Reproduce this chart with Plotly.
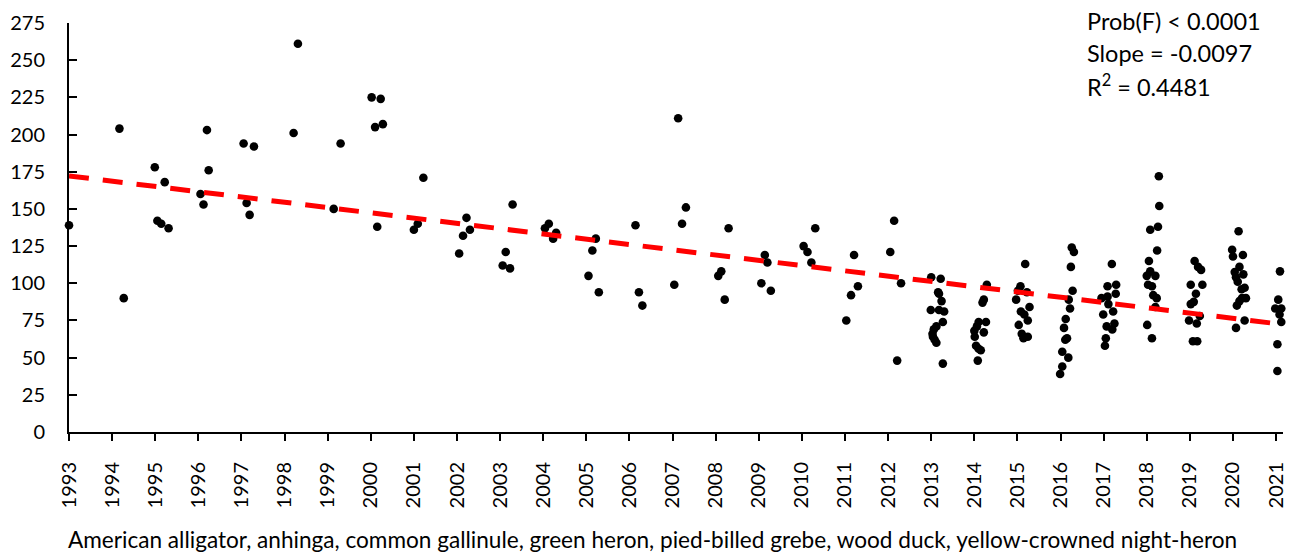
import plotly.graph_objects as go

# ---- data ----
point_years = [
    1993.00,
    1994.17, 1994.27,
    1994.99, 1995.05, 1995.14, 1995.22, 1995.31,
    1996.05, 1996.12, 1996.20, 1996.24,
    1997.05, 1997.12, 1997.19, 1997.29,
    1998.21, 1998.31,
    1999.14, 1999.30,
    2000.02, 2000.10, 2000.15, 2000.23, 2000.28,
    2001.00, 2001.09, 2001.22,
    2002.05, 2002.14, 2002.22, 2002.30,
    2003.06, 2003.13, 2003.23, 2003.29,
    2004.04, 2004.13, 2004.23, 2004.30,
    2005.05, 2005.14, 2005.22, 2005.29,
    2006.14, 2006.22, 2006.30,
    2007.04, 2007.13, 2007.22, 2007.31,
    2008.06, 2008.13, 2008.21, 2008.30,
    2009.06, 2009.14, 2009.20, 2009.28,
    2010.04, 2010.13, 2010.22, 2010.31,
    2011.03, 2011.14, 2011.21, 2011.30,
    2012.05, 2012.14, 2012.21, 2012.30,
    2013.00, 2013.22, 2013.16, 2013.18, 2013.24, 2012.99, 2013.18, 2013.30,
    2013.27, 2013.12, 2013.06, 2013.03, 2013.04, 2013.08, 2013.12, 2013.27,
    2014.29, 2014.22, 2014.19, 2014.27, 2014.10, 2014.06, 2014.22, 2014.00,
    2014.01, 2014.04, 2014.10, 2014.15, 2014.08,
    2015.18, 2015.07, 2015.01, 2015.22, 2014.97, 2015.28, 2015.08, 2015.16,
    2015.24, 2015.03, 2015.10, 2015.14, 2015.24,
    2016.26, 2016.31, 2016.24, 2016.28, 2016.19, 2016.22, 2016.12, 2016.08,
    2016.15, 2016.11, 2016.04, 2016.18, 2016.04, 2015.99,
    2017.19, 2017.09, 2017.29, 2017.28, 2016.95, 2017.09, 2017.11, 2017.22,
    2016.99, 2017.07, 2017.25, 2017.20, 2017.05, 2017.03,
    2018.28, 2018.29, 2018.08, 2018.26, 2018.24, 2018.05, 2018.08, 2018.00,
    2018.20, 2018.03, 2018.12, 2018.15, 2018.23, 2018.20, 2018.01, 2018.12,
    2019.11, 2019.19, 2019.26, 2019.02, 2019.29, 2019.14, 2019.09, 2019.02,
    2019.23, 2018.98, 2019.16, 2019.07, 2019.17,
    2020.13, 2019.98, 2020.00, 2020.23, 2020.15, 2020.04, 2020.24, 2020.07,
    2020.11, 2020.27, 2020.20, 2020.21, 2020.30, 2020.15, 2020.09, 2020.27,
    2020.07,
    2021.09, 2021.05, 2020.98, 2021.12, 2021.08, 2021.12, 2021.03, 2021.03,
]
point_values = [
    139,
    204, 90,
    178, 142, 140, 168, 137,
    160, 153, 203, 176,
    194, 154, 146, 192,
    201, 261,
    150, 194,
    225, 205, 138, 224, 207,
    136, 140, 171,
    120, 132, 144, 136,
    112, 121, 110, 153,
    137, 140, 130, 134,
    105, 122, 130, 94,
    139, 94, 85,
    99, 211, 140, 151,
    105, 108, 89, 137,
    100, 119, 114, 95,
    125, 121, 114, 137,
    75, 92, 119, 98,
    121, 142, 48, 100,
    104, 103, 94, 93, 88, 82, 82, 81,
    74, 71, 69, 66, 64, 62, 60, 46,
    99, 89, 87, 74, 74, 71, 67, 68,
    64, 58, 56, 55, 48,
    113, 98, 95, 94, 89, 84, 81, 79,
    75, 72, 66, 63, 64,
    124, 121, 111, 95, 89, 83, 76, 70,
    63, 62, 54, 50, 44, 39,
    113, 98, 99, 93, 90, 91, 86, 81,
    79, 71, 73, 69, 63, 58,
    172, 152, 136, 138, 122, 115, 108, 105,
    105, 99, 98, 92, 90, 84, 72, 63,
    115, 111, 109, 99, 99, 93, 87.5, 86,
    78, 75, 73, 61, 61,
    135, 122.5, 118, 119, 111, 107.5, 106, 104,
    101, 97, 96, 90, 90, 88, 85, 75,
    70,
    108, 89, 83, 83, 79, 74, 59, 41,
]

trend_years = [1993.0, 2021.16]
trend_values = [172.2, 72.3]

year_ticks = list(range(1993, 2022))
y_ticks = list(range(0, 276, 25))

x_title = ("American alligator, anhinga, common gallinule, green heron, "
           "pied-billed grebe, wood duck, yellow-crowned night-heron")
stats_lines = ["Prob(F) < 0.0001", "Slope = -0.0097", "R<sup>2</sup> = 0.4481"]

FONT = "Lato"

fig = go.Figure()
fig.add_trace(go.Scatter(
    x=point_years, y=point_values, mode="markers",
    marker=dict(color="black", size=8.6, line=dict(width=0)),
    cliponaxis=False, showlegend=False, hoverinfo="x+y",
))
fig.add_trace(go.Scatter(
    x=trend_years, y=trend_values, mode="lines",
    line=dict(color="#FF0000", width=5, dash="20px,14px"),
    showlegend=False, hoverinfo="skip",
))

fig.update_layout(
    width=1297, height=552,
    margin=dict(l=68, r=10, t=20, b=120),
    paper_bgcolor="white", plot_bgcolor="white",
    font=dict(family=FONT, color="black", size=20),
    xaxis=dict(
        range=[1993, 2021.16], tickmode="array", tickvals=year_ticks,
        ticktext=[str(v) for v in year_ticks], tickangle=-90,
        showgrid=False, zeroline=False, showline=True, linecolor="black",
        linewidth=2, ticks="outside", ticklen=7, tickwidth=1.5, tickcolor="black",
        tickfont=dict(family=FONT, size=20, color="black"),
        ticklabelstandoff=13,
    ),
    yaxis=dict(
        range=[0, 275], tickmode="array", tickvals=y_ticks,
        showgrid=False, zeroline=False, showline=True, linecolor="black",
        linewidth=2, ticks="inside", ticklen=8, tickwidth=1.5, tickcolor="black",
        tickfont=dict(family=FONT, size=20, color="black"),
        ticklabelstandoff=18,
    ),
)

# x-axis title, centred on the whole chart as in the reference
fig.add_annotation(
    text=x_title, xref="paper", yref="paper", x=0.4807, y=-0.262,
    xanchor="center", yanchor="middle", showarrow=False,
    font=dict(family=FONT, size=22.6, color="black"),
)

for txt, yy in zip(stats_lines, [1.004, 0.926, 0.848]):
    fig.add_annotation(
        text=txt, xref="paper", yref="paper", x=0.837, y=yy,
        xanchor="left", yanchor="middle", showarrow=False, align="left",
        font=dict(family=FONT, size=23.5, color="black"),
    )

fig.write_html("out.html", config={"displayModeBar": False},
               post_script="document.body.style.margin='0';")
